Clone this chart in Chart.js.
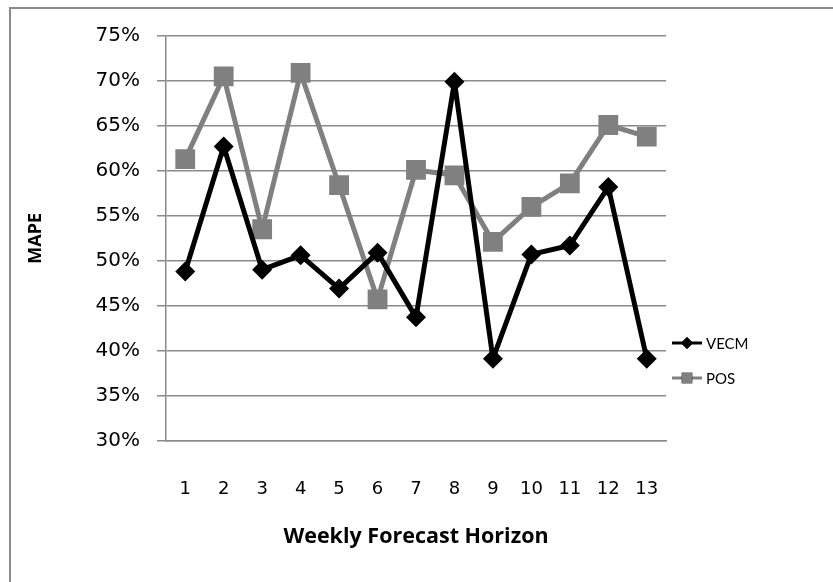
<!DOCTYPE html>
<html>
<head>
<meta charset="utf-8">
<script src="https://cdn.jsdelivr.net/npm/chart.js@4.4.0/dist/chart.umd.min.js"></script>
<style>
  html, body { margin: 0; padding: 0; background: #fff; }
  #wrap { width: 833px; height: 582px; }
</style>
</head>
<body>
<div id="wrap"><canvas id="mapeChart" width="833" height="582"></canvas></div>
<script>
// Data
const weeks = ['1', '2', '3', '4', '5', '6', '7', '8', '9', '10', '11', '12', '13'];
const vecm = [48.8, 62.7, 49.0, 50.6, 46.9, 50.9, 43.7, 69.9, 39.1, 50.7, 51.7, 58.2, 39.1];
const pos = [61.3, 70.5, 53.5, 70.9, 58.4, 45.7, 60.1, 59.5, 52.1, 56.0, 58.6, 65.1, 63.8];
const yTicks = [30, 35, 40, 45, 50, 55, 60, 65, 70, 75];

const gridGray = '#8a8a8a';

// outer frame (only top + left edges show in the picture)
const framePlugin = {
    id: 'frame',
    beforeDraw(chart) {
        const c = chart.ctx;
        c.save();
        c.fillStyle = '#fff';
        c.fillRect(0, 0, chart.width, chart.height);
        c.strokeStyle = gridGray;
        c.lineWidth = 2;
        c.beginPath();
        c.moveTo(10, chart.height + 2);
        c.lineTo(10, 8);
        c.lineTo(chart.width + 2, 8);
        c.stroke();
        c.restore();
    }
};

// legend drawn as line + marker like the original
const legendPlugin = {
    id: 'sideLegend',
    afterDraw(chart) {
        const c = chart.ctx;
        const x0 = chart.chartArea.right + 6;
        const rows = [343, 378];
        chart.data.datasets.forEach((ds, i) => {
            const y = rows[i];
            c.save();
            c.strokeStyle = ds.borderColor;
            c.lineWidth = 3;
            c.beginPath();
            c.moveTo(x0, y);
            c.lineTo(x0 + 30, y);
            c.stroke();
            Chart.helpers.drawPoint(c, {
                pointStyle: ds.pointStyle,
                radius: ds.pointStyle === 'rect' ? 7.5 : 6,
                borderWidth: 0,
                rotation: 0
            }, x0 + 15, y);
            c.fillStyle = ds.pointBackgroundColor;
            c.fill();
            c.fillStyle = '#000';
            c.font = '15px Lato';
            c.textBaseline = 'middle';
            c.textAlign = 'left';
            c.fillText(ds.label, x0 + 34, y + 1);
            c.restore();
        });
    }
};

const ctx = document.getElementById('mapeChart').getContext('2d');
const mapeChart = new Chart(ctx, {
    type: 'line',
    data: {
        labels: weeks,
        datasets: [
            {
                label: 'VECM',
                data: vecm,
                borderColor: '#000',
                backgroundColor: '#000',
                pointBackgroundColor: '#000',
                pointBorderWidth: 0,
                pointStyle: 'rectRot',
                pointRadius: 10,
                borderWidth: 5,
                borderJoinStyle: 'round',
                tension: 0
            },
            {
                label: 'POS',
                data: pos,
                borderColor: '#808080',
                backgroundColor: '#808080',
                pointBackgroundColor: '#808080',
                pointBorderWidth: 0,
                pointStyle: 'rect',
                pointRadius: 14,
                borderWidth: 5,
                borderJoinStyle: 'round',
                tension: 0
            }
        ]
    },
    options: {
        responsive: false,
        animation: false,
        layout: { padding: { left: 0, top: 36, right: 167, bottom: 0 } },
        scales: {
            x: {
                offset: true,
                grid: { display: false },
                border: { display: true, color: gridGray, width: 1.5 },
                ticks: { color: '#000', font: { family: 'DejaVu Sans', size: 18 }, padding: 30 },
                title: {
                    display: true,
                    text: 'Weekly Forecast Horizon',
                    color: '#000',
                    font: { family: 'Open Sans', weight: 'bold', size: 21.5 },
                    padding: { top: 0, bottom: 32 }
                },
                afterFit(scale) { scale.height = 582 - 440.5; }
            },
            y: {
                min: 30,
                max: 75,
                afterBuildTicks(scale) { scale.ticks = yTicks.map(v => ({ value: v })); },
                grid: { color: gridGray, lineWidth: 1.5, tickLength: 9 },
                border: { display: true, color: gridGray, width: 1.5 },
                ticks: {
                    color: '#000',
                    font: { family: 'DejaVu Sans', size: 20 },
                    padding: 17,
                    callback: v => v + '%'
                },
                title: {
                    display: true,
                    text: 'MAPE',
                    color: '#000',
                    font: { family: 'Open Sans', weight: 'bold', size: 18 },
                    padding: { top: 25, bottom: 0 }
                },
                afterFit(scale) { scale.width = 166; }
            }
        },
        plugins: {
            legend: { display: false },
            tooltip: { enabled: false }
        }
    },
    plugins: [framePlugin, legendPlugin]
});
</script>
</body>
</html>
